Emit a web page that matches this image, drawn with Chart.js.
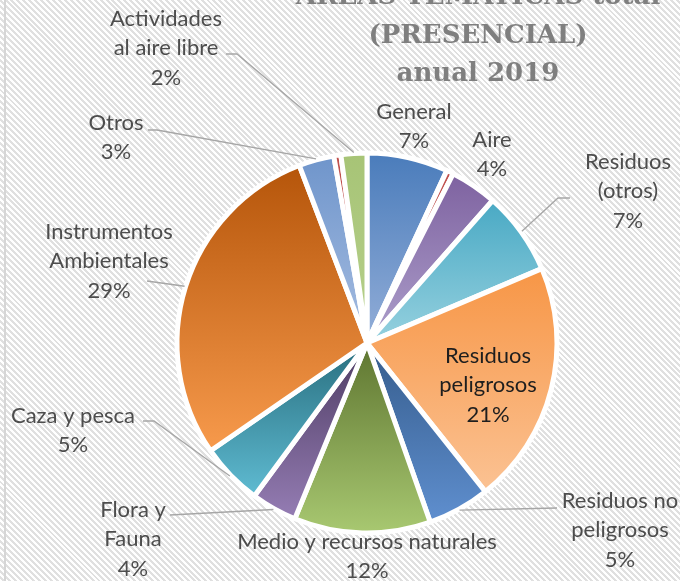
<!DOCTYPE html>
<html>
<head>
<meta charset="utf-8">
<script src="https://cdn.jsdelivr.net/npm/chart.js@4.4.1/dist/chart.umd.min.js"></script>
<style>
  html, body { margin: 0; padding: 0; }
  body {
    width: 680px; height: 581px; overflow: hidden;
    background: repeating-linear-gradient(45deg, #ffffff 0 2.1px, #e0e0e0 2.1px 4.2px);
  }
  canvas { display: block; }
</style>
</head>
<body>
<canvas id="pie" width="680" height="581"></canvas>
<script>
// data (shares in %, two unlabelled slivers kept)
const categories = ['General', '', 'Aire', 'Residuos (otros)', 'Residuos peligrosos',
  'Residuos no peligrosos', 'Medio y recursos naturales', 'Flora y Fauna', 'Caza y pesca',
  'Instrumentos Ambientales', 'Otros', '', 'Actividades al aire libre'];
const shares = [6.9, 0.6, 4.0, 7.1, 20.7, 5.3, 11.6, 3.9, 5.3, 28.8, 3.0, 0.6, 2.2];
const titleLines = ['ÁREAS TEMÁTICAS total', '(PRESENCIAL)', 'anual 2019'];

// how each label wraps
const labelLines = [['General'], null, ['Aire'], ['Residuos', '(otros)'], ['Residuos', 'peligrosos'],
  ['Residuos no', 'peligrosos'], ['Medio y recursos naturales'], ['Flora y', 'Fauna'], ['Caza y pesca'],
  ['Instrumentos', 'Ambientales'], ['Otros'], null, ['Actividades', 'al aire libre']];

// slice gradients, top -> bottom
const topColors = ['#4a7cbb', '#c0504d', '#7e62a0', '#49a9c4', '#f79646', '#355c8c', '#5e7530',
  '#4d3b62', '#286e7e', '#b5550a', '#6f95cb', '#c0504d', '#a7c476'];
const bottomColors = ['#93aed8', '#c0504d', '#ad9fcb', '#96d1df', '#fbc293', '#5f8fcf', '#a8c871',
  '#957db4', '#5fbbd2', '#f79a4c', '#a6bde1', '#c0504d', '#b6d08c'];

// label placement: centre x, first baseline, leader start points
const labelSpots = [
  { x: 414, y: 119 },
  null,
  { x: 492, y: 147 },
  { x: 628, y: 169, from: [[570, 198], [558, 198]] },
  { x: 488, y: 363, inside: true },
  { x: 620, y: 508, from: [[557, 508]] },
  { x: 367, y: 549 },
  { x: 133, y: 517, from: [[170, 515]] },
  { x: 73, y: 423, from: [[143, 421], [154, 421]] },
  { x: 109, y: 239, from: [[147, 281]] },
  { x: 116, y: 130, from: [[148, 130], [157, 130]] },
  null,
  { x: 166, y: 26, from: [[226, 54], [237, 54]] },
];

const total = shares.reduce((a, b) => a + b, 0);

const pieDecor = {
  id: 'pieDecor',
  beforeDatasetsDraw(chart) {
    const ctx = chart.ctx;
    chart.getDatasetMeta(0).data.forEach((arc, i) => {
      const { y, startAngle, endAngle, outerRadius } = arc.getProps(['y', 'startAngle', 'endAngle', 'outerRadius'], true);
      let top = y, bottom = y;
      const angs = [startAngle, endAngle];
      for (let a = -2.5 * Math.PI; a <= 2.5 * Math.PI; a += Math.PI / 2) {
        if (a > startAngle && a < endAngle) angs.push(a);
      }
      angs.forEach(a => {
        const py = y + Math.sin(a) * outerRadius;
        top = Math.min(top, py);
        bottom = Math.max(bottom, py);
      });
      const g = ctx.createLinearGradient(0, top, 0, bottom + 0.01);
      g.addColorStop(0, topColors[i]);
      g.addColorStop(1, bottomColors[i]);
      arc.options = Object.assign({}, arc.options, { backgroundColor: g });
    });
  },
  afterDraw(chart) {
    const ctx = chart.ctx;
    ctx.save();

    // left frame rule
    ctx.strokeStyle = '#d6d6d6';
    ctx.lineWidth = 2;
    ctx.beginPath();
    ctx.moveTo(5, 0);
    ctx.lineTo(5, 581);
    ctx.stroke();

    // title
    ctx.fillStyle = '#7f7f7f';
    ctx.font = 'bold 26px "DejaVu Serif"';
    ctx.textAlign = 'center';
    ctx.textBaseline = 'alphabetic';
    titleLines.forEach((t, k) => ctx.fillText(t, 478, 4 + k * 38.5));

    // data labels + leader lines
    const meta = chart.getDatasetMeta(0);
    ctx.font = '22px Lato';
    labelSpots.forEach((spot, i) => {
      if (!spot) return;
      const arc = meta.data[i];
      if (spot.from) {
        const { x, y, startAngle, endAngle, outerRadius } = arc.getProps(['x', 'y', 'startAngle', 'endAngle', 'outerRadius'], true);
        const mid = (startAngle + endAngle) / 2;
        ctx.strokeStyle = '#a6a6a6';
        ctx.lineWidth = 1.3;
        ctx.beginPath();
        spot.from.forEach((p, k) => (k ? ctx.lineTo(p[0], p[1]) : ctx.moveTo(p[0], p[1])));
        ctx.lineTo(x + Math.cos(mid) * (outerRadius + 1), y + Math.sin(mid) * (outerRadius + 1));
        ctx.stroke();
      }
      const lines = labelLines[i].concat([Math.round(shares[i] / total * 100) + '%']);
      ctx.fillStyle = spot.inside ? '#1e1e1e' : '#4d4d4d';
      lines.forEach((t, k) => ctx.fillText(t, spot.x, spot.y + k * 29.3));
    });
    ctx.restore();
  }
};

new Chart(document.getElementById('pie'), {
  type: 'pie',
  data: {
    labels: categories,
    datasets: [{
      data: shares,
      backgroundColor: topColors,
      borderColor: '#ffffff',
      borderWidth: 5,
    }],
  },
  options: {
    responsive: false,
    animation: false,
    layout: { padding: { left: 174.5, top: 150.5, right: 120.5, bottom: 45.5 } },
    plugins: { legend: { display: false }, tooltip: { enabled: false }, title: { display: false } },
  },
  plugins: [pieDecor],
});
</script>
</body>
</html>
